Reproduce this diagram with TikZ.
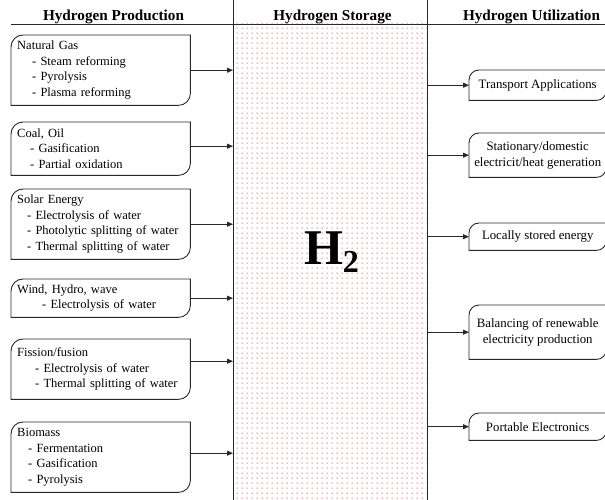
\documentclass[tikz,border=0pt]{standalone}
\usepackage{fontspec}
\setmainfont{Liberation Serif}
\usetikzlibrary{arrows.meta,patterns}
\pgfdeclarepatternformonly{reddots}{\pgfqpoint{0pt}{0pt}}{\pgfqpoint{5pt}{4.5pt}}{\pgfqpoint{5pt}{4.5pt}}{\pgfpathrectangle{\pgfqpoint{2pt}{1.5pt}}{\pgfqpoint{1.2pt}{1.2pt}}\pgfusepath{fill}}
\definecolor{dotred}{RGB}{225,90,90}
\definecolor{linegray}{RGB}{40,40,40}
\tikzset{
  boxline/.style={draw=linegray, line width=0.9pt},
  prodbox/.style={anchor=north west, inner xsep=6pt, inner ysep=0pt, text width=167pt, align=left,
     font=\fontsize{12.5}{15.5}\selectfont},
  usebox/.style={anchor=north west, inner sep=0pt, minimum width=137pt, align=center,
     font=\fontsize{12.8}{16}\selectfont},
  header/.style={anchor=base, font=\fontsize{15.2}{17}\selectfont\bfseries},
  arr/.style={draw=linegray, line width=0.9pt, -{Triangle[length=6pt,width=5pt]}},
  sepline/.style={draw=linegray, line width=0.9pt}
}
\newcommand{\curvedbox}[2]{%
  \draw[boxline] (#1.south west) -- ([yshift=-#2]#1.north west)
     arc[start angle=180, end angle=90, radius=#2] -- (#1.north east)
     -- ([yshift=#2]#1.south east) arc[start angle=0, end angle=-90, radius=#2] -- cycle;}
\begin{document}
\begin{tikzpicture}[x=1pt,y=1pt]
\useasboundingbox (0,0) rectangle (605,500);
% storage area
\node[anchor=south west, inner sep=0pt, minimum width=194pt, minimum height=476pt,
      pattern=reddots, pattern color=dotred] (stor) at (233,0) {};
\draw[sepline] (233,0) -- (233,500);
\draw[sepline] (427,0) -- (427,500);
\draw[sepline] (11,476) -- (605,476);
% headers
\node[header] (h1) at (113.5,479.5) {Hydrogen Production};
\node[header] (h2) at (332.5,479.5) {Hydrogen Storage};
\node[header] (h3) at (531.5,479.5) {Hydrogen Utilization};
% H2
\node[anchor=base, inner sep=0pt] (htwo) at (331.5,235)
  {\fontsize{50}{50}\selectfont\bfseries H\raisebox{-8pt}{\fontsize{32}{32}\selectfont 2}};
% production boxes
\node[prodbox, minimum height=70pt] (p1) at (11,465)
  {Natural Gas\\\hspace*{15pt}- Steam reforming\\\hspace*{15pt}- Pyrolysis\\\hspace*{15pt}- Plasma reforming};
\node[prodbox, minimum height=53pt] (p2) at (11,378)
  {Coal, Oil\\\hspace*{13pt}- Gasification\\\hspace*{13pt}- Partial oxidation};
\node[prodbox, minimum height=70pt] (p3) at (11,311)
  {Solar Energy\\\hspace*{10pt}- Electrolysis of water\\\hspace*{10pt}- Photolytic splitting of water\\\hspace*{10pt}- Thermal splitting of water};
\node[prodbox, minimum height=38pt] (p4) at (11,221)
  {Wind, Hydro, wave\\\hspace*{25pt}- Electrolysis of water};
\node[prodbox, minimum height=60pt] (p5) at (11,161)
  {Fission/fusion\\\hspace*{18pt}- Electrolysis of water\\\hspace*{18pt}- Thermal splitting of water};
\node[prodbox, minimum height=70pt] (p6) at (11,78)
  {Biomass\\\hspace*{11pt}- Fermentation\\\hspace*{11pt}- Gasification\\\hspace*{11pt}- Pyrolysis};
\foreach \n in {p1,p2,p3,p4,p5,p6} {\curvedbox{\n}{12pt}}
% utilization boxes
\node[usebox, minimum height=30pt] (u1) at (469,430) {Transport Applications};
\node[usebox, minimum height=44pt] (u2) at (469,367) {Stationary/domestic\\electricit/heat generation};
\node[usebox, minimum height=27pt] (u3) at (469,277) {Locally stored energy};
\node[usebox, minimum height=54pt] (u4) at (469,195) {Balancing of renewable\\electricity production};
\node[usebox, minimum height=27pt] (u5) at (469,87) {Portable Electronics};
\foreach \n in {u1,u2,u3,u4,u5} {\curvedbox{\n}{10pt}}
% arrows into storage
\coordinate (a1) at (p1.east);
\coordinate (a2) at ([yshift=2.5pt]p2.east);
\coordinate (a3) at (p3.east);
\coordinate (a4) at (p4.east);
\coordinate (a5) at ([yshift=8pt]p5.east);
\coordinate (a6) at ([yshift=4pt]p6.east);
\foreach \a in {a1,a2,a3,a4,a5,a6} {\draw[arr] (\a) -- (\a -| stor.west);}
% arrows out of storage
\foreach \u in {u1,u2,u3,u4,u5} {\draw[arr] (\u.west -| stor.east) -- (\u.west);}
\end{tikzpicture}
\end{document}
